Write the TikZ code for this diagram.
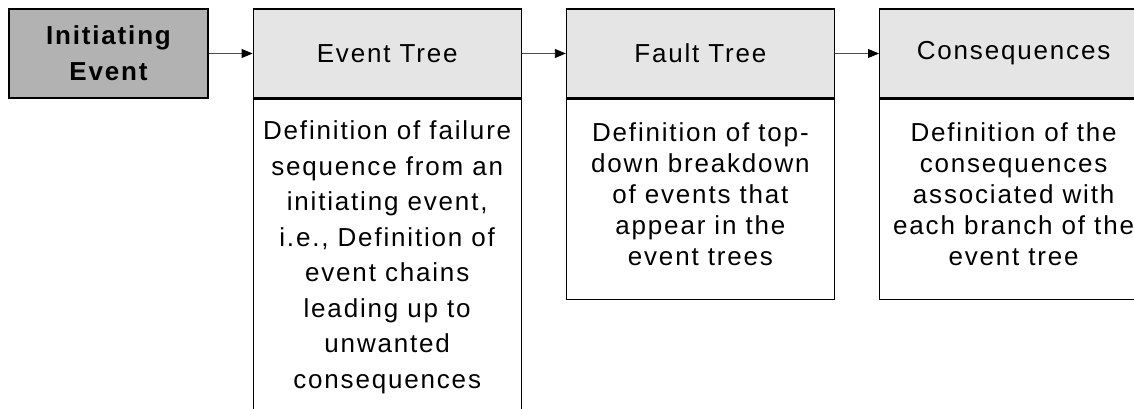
\documentclass[tikz,border=0pt]{standalone}
\usepackage{fontspec}
\setmainfont{Liberation Sans}[LetterSpace=7]
\usetikzlibrary{positioning,arrows.meta}
\tikzset{
  stepbox/.style = {shape=rectangle, draw, line width=1.2pt, align=center,
                    inner sep=0pt, font=\fontsize{26}{31}\selectfont},
  initbox/.style = {stepbox, fill=black!30, minimum width=199pt,
                    minimum height=89pt, font=\fontsize{26}{36}\selectfont\bfseries},
  headbox/.style = {stepbox, fill=black!10, minimum width=268pt, minimum height=89pt},
  bodybox/.style = {stepbox, fill=white, minimum width=268pt,
                    execute at end node={\rule[-11pt]{0pt}{0pt}}},
  link/.style    = {-{Triangle[length=11pt,width=9pt,color=black]},
                    draw=black!70, line width=0.9pt}
}

\begin{document}
\begin{tikzpicture}[x=1pt,y=-1pt,node distance=44pt]
\useasboundingbox (0,0) rectangle (1134,409);
\clip (0,0) rectangle (1134,409);
% top row
\node [initbox] (init) at (108.5,53.5) {Initiating\\Event};
\node [headbox, right=of init] (evhead) {Event Tree};
\node [headbox, right=of evhead] (fthead) {Fault Tree};
\node [headbox, right=of fthead] (cohead) {Consequences};
% descriptions
\node [bodybox, below=0pt of evhead, minimum height=322pt,
       font=\fontsize{26}{35.5}\selectfont] (evbody)
  {Definition of failure\\ sequence from an\\ initiating event,\\ i.e., Definition of\\
   event chains\\ leading up to\\ unwanted\\ consequences};
\node [bodybox, below=0pt of fthead, minimum height=200pt] (ftbody)
  {Definition of top-\\ down breakdown\\ of events that\\ appear in the\\ event trees};
\node [bodybox, below=0pt of cohead, minimum height=200pt] (cobody)
  {Definition of the\\ consequences\\ associated with\\ each branch of the\\ event tree};
% links
\draw [link] (init.east) -- (evhead.west);
\draw [link] (evhead.east) -- (fthead.west);
\draw [link] (fthead.east) -- (cohead.west);
\end{tikzpicture}
\end{document}
